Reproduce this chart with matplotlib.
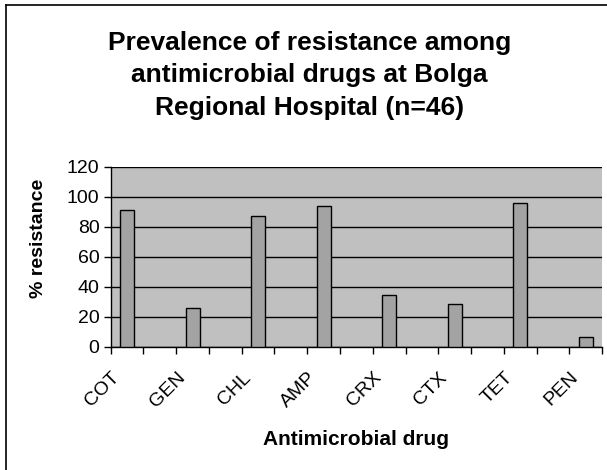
#!/usr/bin/env python3

import matplotlib

matplotlib.use("Agg")

import matplotlib.pyplot as plt
import matplotlib.transforms as mtransforms
from matplotlib.lines import Line2D
import numpy as np

# resistance per drug, % of isolates (n=46)
drugs = ["COT", "GEN", "CHL", "AMP", "CRX", "CTX", "TET", "PEN"]
resistance = [91.3, 26.1, 87.0, 93.5, 34.8, 28.3, 95.7, 6.5]
yticks = [0, 20, 40, 60, 80, 100, 120]

title = "Prevalence of resistance among\nantimicrobial drugs at Bolga\nRegional Hospital (n=46)"


def plotData(filename):
    plt.rcParams["font.family"] = ["Liberation Sans", "DejaVu Sans"]

    fig = plt.figure(figsize=(6.07, 4.70), dpi=100)
    ax = fig.add_axes([0.1824, 0.2623, 0.8094, 0.383])
    ax.set_facecolor("#c0c0c0")

    # every drug gets a slot plus an empty one after it (as in the sheet)
    x = np.arange(len(drugs)) * 2
    ax.bar(x, resistance, width=0.43, color="#a3a3a3", edgecolor="black",
           linewidth=1.0, zorder=3)

    ax.set_xlim(-0.5, 2 * len(drugs) - 1.5)
    ax.set_ylim(0, 120)
    ax.set_yticks(yticks)
    ax.yaxis.grid(True, color="black", linewidth=1.0, zorder=1)
    ax.set_axisbelow(True)

    ax.set_xticks(np.arange(-0.5, 2 * len(drugs) - 1, 1.0))
    ax.set_xticklabels([])
    ax.set_xticks(x, minor=True)
    ax.set_xticklabels(drugs, minor=True, rotation=45, ha="right",
                       va="center", rotation_mode="anchor", fontsize=14)
    ax.tick_params(axis="x", which="major", direction="out", length=5,
                   width=1, color="black")
    ax.tick_params(axis="x", which="minor", length=0, pad=16)
    ax.tick_params(axis="y", direction="out", length=5, width=1,
                   labelsize=14, pad=3)

    # nudge the slanted labels down-left like the original
    shift = mtransforms.ScaledTranslation(-10 / 100, -6 / 100, fig.dpi_scale_trans)
    for lbl in ax.get_xticklabels(minor=True):
        lbl.set_transform(lbl.get_transform() + shift)

    for side in ("top", "right"):
        ax.spines[side].set_visible(False)
    for side in ("left", "bottom"):
        ax.spines[side].set_linewidth(1.0)
        ax.spines[side].set_color("black")

    ax.set_xlabel("Antimicrobial drug", fontsize=15, fontweight="bold")
    ax.xaxis.set_label_coords(0.5, -0.465)
    ax.set_ylabel("% resistance", fontsize=14, fontweight="bold")
    ax.yaxis.set_label_coords(-0.13, 0.6)

    # va=baseline pins the last line
    fig.text(0.510, 1 - 115 / 470, title, ha="center", va="baseline",
             fontsize=19, fontweight="bold", linespacing=1.45)

    # chart area frame (only left and top edges fall inside the picture)
    fig.add_artist(Line2D([5.5 / 607, 5.5 / 607], [0, 1 - 4.5 / 470],
                          transform=fig.transFigure, color="black", lw=1.2))
    fig.add_artist(Line2D([5.5 / 607, 1], [1 - 4.5 / 470, 1 - 4.5 / 470],
                          transform=fig.transFigure, color="black", lw=1.2))

    fig.savefig(filename, dpi=100, facecolor="white")


def main():
    plotData("out.png")


main()
